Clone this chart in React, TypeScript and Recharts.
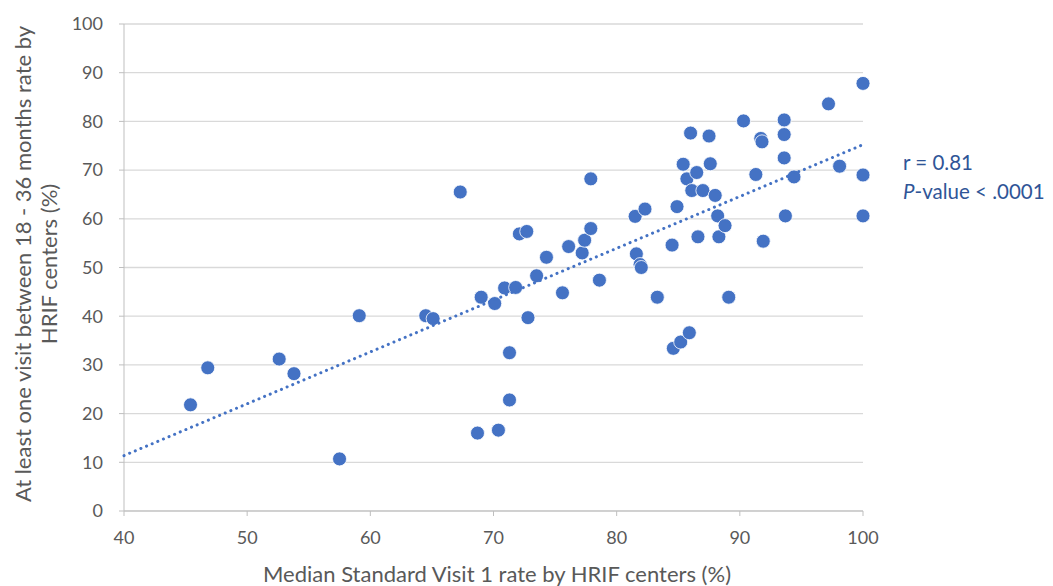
import React from 'react';
import { ScatterChart, Scatter, XAxis, YAxis, CartesianGrid } from 'recharts';

// Median Standard Visit 1 rate per HRIF center (%)
const visitRates = [
  45.4, 46.8, 52.6, 53.8, 57.5, 59.1, 64.5, 65.1, 67.3, 68.7,
  69.0, 70.1, 70.4, 70.9, 71.3, 71.3, 71.8, 72.1, 72.7, 72.8,
  73.5, 74.3, 75.6, 76.1, 77.2, 77.4, 77.9, 77.9, 78.6, 81.5,
  81.6, 81.9, 82.0, 82.3, 83.3, 84.5, 84.6, 84.9, 85.2, 85.4,
  85.7, 85.9, 86.0, 86.1, 86.5, 86.6, 87.0, 87.5, 87.6, 88.0,
  88.2, 88.3, 88.8, 89.1, 90.3, 91.3, 91.7, 91.8, 91.9, 93.6,
  93.6, 93.6, 93.7, 94.4, 97.2, 98.1, 100, 100, 100,
];

// At least one visit between 18 - 36 months rate (%)
const followUpRates = [
  21.8, 29.4, 31.2, 28.2, 10.7, 40.1, 40.1, 39.5, 65.5, 16.0,
  43.9, 42.6, 16.6, 45.8, 32.5, 22.8, 45.9, 56.9, 57.4, 39.7,
  48.3, 52.1, 44.8, 54.3, 53.0, 55.6, 58.0, 68.2, 47.4, 60.5,
  52.8, 50.6, 50.0, 62.0, 43.9, 54.6, 33.4, 62.5, 34.7, 71.2,
  68.2, 36.6, 77.6, 65.8, 69.5, 56.3, 65.8, 77.0, 71.3, 64.8,
  60.6, 56.3, 58.6, 43.9, 80.1, 69.1, 76.5, 75.8, 55.4, 80.3,
  77.3, 72.5, 60.6, 68.6, 83.6, 70.8, 87.8, 69.0, 60.6,
];

const xTicks = [40, 50, 60, 70, 80, 90, 100];
const yTicks = [0, 10, 20, 30, 40, 50, 60, 70, 80, 90, 100];

const BLUE = '#4472C4';
const GREY_TEXT = '#595959';
const FONT = 'Lato, "Open Sans", sans-serif';

const points = visitRates.map((x, i) => ({ x, y: followUpRates[i] }));

// least squares fit for the linear trendline
function linearFit(xs: number[], ys: number[]) {
  const n = xs.length;
  const mx = xs.reduce((a, b) => a + b, 0) / n;
  const my = ys.reduce((a, b) => a + b, 0) / n;
  let sxy = 0;
  let sxx = 0;
  for (let i = 0; i < n; i++) {
    sxy += (xs[i] - mx) * (ys[i] - my);
    sxx += (xs[i] - mx) * (xs[i] - mx);
  }
  const slope = sxy / sxx;
  return { slope, intercept: my - slope * mx };
}

const fit = linearFit(visitRates, followUpRates);
const trend = [xTicks[0], xTicks[xTicks.length - 1]].map(x => ({
  x,
  y: fit.intercept + fit.slope * x,
}));

const Dot = (props: any) => {
  const { cx, cy } = props;
  if (cx == null || cy == null) return null;
  return <circle cx={cx} cy={cy} r={7} fill={BLUE} stroke="#fff" strokeWidth={0.8} />;
};

export default function App() {
  return (
    <div style={{ position: 'absolute', left: 0, top: 0, width: 1053, height: 586, background: '#fff', fontFamily: FONT }}>
      <ScatterChart
        width={1053}
        height={586}
        margin={{ top: 24, right: 190, bottom: 45, left: 64 }}
      >
        <CartesianGrid vertical={false} stroke="#d9d9d9" strokeWidth={1.3} />
        <XAxis
          type="number"
          dataKey="x"
          domain={[40, 100]}
          ticks={xTicks}
          height={30}
          stroke="#bfbfbf"
          tickSize={5}
          tick={{ fill: GREY_TEXT, fontSize: 18, fontFamily: FONT }}
          tickMargin={15}
        />
        <YAxis
          type="number"
          dataKey="y"
          domain={[0, 100]}
          ticks={yTicks}
          width={60}
          stroke="#bfbfbf"
          tickSize={5}
          tick={{ fill: GREY_TEXT, fontSize: 18, fontFamily: FONT }}
          tickMargin={16}
        />
        <Scatter data={points} fill={BLUE} shape={<Dot />} isAnimationActive={false} />
        <Scatter
          data={trend}
          line={{ stroke: BLUE, strokeWidth: 3, strokeDasharray: '0.1 6', strokeLinecap: 'round' }}
          shape={() => null}
          isAnimationActive={false}
        />
      </ScatterChart>

      <div
        style={{
          position: 'absolute',
          left: 36,
          top: 264,
          transform: 'translate(-50%, -50%) rotate(-90deg)',
          whiteSpace: 'nowrap',
          textAlign: 'center',
          color: GREY_TEXT,
          fontSize: 22,
          lineHeight: '26px',
        }}
      >
        At least one visit between 18 - 36 months rate by
        <br />
        HRIF centers (%)
      </div>

      <div
        style={{
          position: 'absolute',
          left: 497,
          top: 573,
          transform: 'translate(-50%, -50%)',
          whiteSpace: 'nowrap',
          color: GREY_TEXT,
          fontSize: 22,
        }}
      >
        Median Standard Visit 1 rate by HRIF centers (%)
      </div>

      <div
        style={{
          position: 'absolute',
          left: 903,
          top: 148,
          color: '#2F5597',
          fontSize: 20.5,
          lineHeight: '29px',
          whiteSpace: 'nowrap',
        }}
      >
        r = 0.81
        <br />
        <i>P</i>-value &lt; .0001
      </div>
    </div>
  );
}
